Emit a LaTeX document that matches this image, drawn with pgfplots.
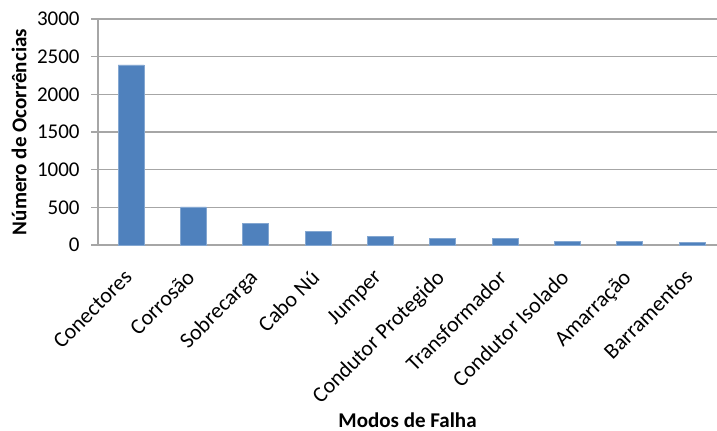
\documentclass[border=0pt]{standalone}
\usepackage{pgfplots}
\pgfplotsset{compat=1.18}
\usepackage{fontspec}
\setmainfont{Carlito}
\definecolor{barblue}{HTML}{4F81BD}
\definecolor{gridgray}{HTML}{A6A6A6}
\begin{document}
\begin{tikzpicture}
\begin{axis}[
  name=ax,
  scale only axis,
  width=309.5pt, height=113pt,
  xmin=-0.53, xmax=9.4,
  ymin=0, ymax=3000,
  ytick={0,500,...,3000},
  xtick=data,
  xticklabels={Conectores,Corrosão,Sobrecarga,Cabo Nú,Jumper,Condutor Protegido,Transformador,Condutor Isolado,Amarração,Barramentos},
  xticklabel style={xshift=-4pt, yshift=-8pt, rotate=45, anchor=north east, inner sep=0pt, font=\fontsize{11}{12}\selectfont},
  yticklabel style={font=\fontsize{10.5}{12}\selectfont, inner sep=3pt, xshift=-2.5pt},
  /pgf/number format/assume math mode=true,
  scaled y ticks=false,
  y tick label style={/pgf/number format/1000 sep={}},
  ymajorgrids,
  grid style={gridgray, line width=0.6pt},
  axis x line*=bottom,
  axis y line*=left,
  axis line style={gridgray, line width=0.6pt},
  major x tick style={draw=none},
  ytick style={gridgray, line width=0.6pt},
  tick align=outside,
  major tick length=3.5pt,
  xlabel={\bfseries Modos de Falha},
  xlabel style={at={(axis description cs:0.5,0)}, anchor=center, yshift=-87.5pt, font=\fontsize{10.5}{12}\selectfont},
  ylabel={\bfseries Número de Ocorrências},
  ylabel style={at={(axis description cs:0,0.5)}, anchor=center, yshift=39.5pt, font=\fontsize{10.5}{12}\selectfont},
  clip=false,
]
\addplot[ybar, bar width=13pt, fill=barblue, draw=barblue!70!white, line width=0.3pt]
coordinates {(0,2390) (1,505) (2,288) (3,182) (4,115) (5,93) (6,92) (7,49) (8,48) (9,31)};
\end{axis}
\pgfresetboundingbox
\path ([xshift=-49pt,yshift=-92.5pt]ax.south west) rectangle ([xshift=0pt,yshift=9.5pt]ax.north east);
\end{tikzpicture}
\end{document}
